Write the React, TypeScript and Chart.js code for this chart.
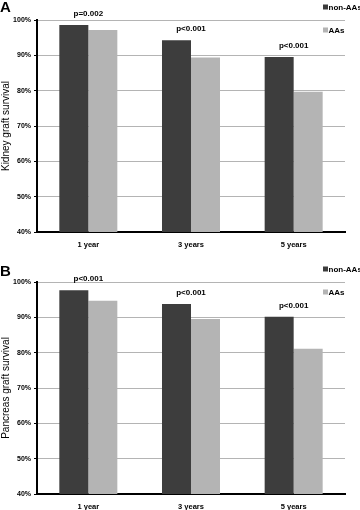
import React, { useEffect, useRef } from "react";
import { Chart, registerables } from "chart.js";

Chart.register(...registerables);

const categories = ["1 year", "3 years", "5 years"];
const seriesNames = ["non-AAs", "AAs"];
const seriesColors = ["#3d3d3d", "#b4b4b4"];

const kidneyNonAAs = [98.6, 94.3, 89.5];
const kidneyAAs = [97.2, 89.4, 79.7];
const kidneyP = ["p=0.002", "p<0.001", "p<0.001"];

const pancreasNonAAs = [97.7, 93.8, 90.2];
const pancreasAAs = [94.7, 89.5, 81.1];
const pancreasP = ["p<0.001", "p<0.001", "p<0.001"];

const yMin = 40;
const yMax = 100;
const yStep = 10;

const FONT = "'Liberation Sans', Arial, sans-serif";

function makeOverlayPlugin(letter: string, pLabels: string[]) {
  return {
    id: "overlay" + letter,
    afterDraw(chart: any) {
      const { ctx, chartArea, scales } = chart;
      const xs = scales.x;
      const ys = scales.y;
      ctx.save();
      // panel letter
      ctx.fillStyle = "#000";
      ctx.font = `bold 15px ${FONT}`;
      ctx.textAlign = "left";
      ctx.textBaseline = "top";
      ctx.fillText(letter, 0, letter === "A" ? 0 : 14);
      // p-value labels
      ctx.font = `bold 8px ${FONT}`;
      ctx.textAlign = "center";
      ctx.textBaseline = "middle";
      const ds = chart.data.datasets;
      pLabels.forEach((lab, i) => {
        const top = Math.max(...ds.map((d: any) => d.data[i]));
        const x = xs.getPixelForValue(i);
        const y = ys.getPixelForValue(top) - 11;
        ctx.fillText(lab, x, y);
      });
      // legend
      ctx.textAlign = "left";
      const lx = chartArea.right - 22;
      const offsets = [-13, 10];
      ds.forEach((d: any, k: number) => {
        const y = chartArea.top + offsets[k];
        ctx.fillStyle = d.backgroundColor;
        ctx.fillRect(lx, y - 2.5, 5, 5);
        ctx.fillStyle = "#000";
        ctx.fillText(d.label, lx + 5.5, y + 0.5);
      });
      ctx.restore();
    },
  };
}

function SurvivalChart(props: {
  letter: string;
  title: string;
  nonAAs: number[];
  aas: number[];
  pLabels: string[];
  height: number;
  padTop: number;
  xAxisHeight: number;
}) {
  const ref = useRef<HTMLCanvasElement | null>(null);
  useEffect(() => {
    if (!ref.current) return;
    const chart = new Chart(ref.current, {
      type: "bar",
      data: {
        labels: categories,
        datasets: [
          { label: seriesNames[0], data: props.nonAAs, backgroundColor: seriesColors[0] },
          { label: seriesNames[1], data: props.aas, backgroundColor: seriesColors[1] },
        ],
      },
      options: {
        responsive: false,
        animation: false,
        devicePixelRatio: 1,
        layout: { padding: { top: props.padTop, right: 15, left: 0, bottom: 0 } },
        datasets: { bar: { categoryPercentage: 0.565, barPercentage: 1 } },
        plugins: { legend: { display: false }, tooltip: { enabled: false } },
        scales: {
          x: {
            grid: { display: false, drawTicks: false },
            border: { display: true, color: "#000", width: 2 },
            ticks: { color: "#000", font: { family: FONT, size: 7.5, weight: "bold" }, padding: 8 },
            afterFit: (s: any) => {
              s.height = props.xAxisHeight;
            },
          },
          y: {
            min: yMin,
            max: yMax,
            ticks: {
              stepSize: yStep,
              color: "#000",
              padding: 3,
              font: { family: FONT, size: 7, weight: "bold" },
              callback: (v: any) => v + "%",
            },
            grid: { color: "#b4b4b4", lineWidth: 1, tickLength: 3, tickColor: "#000" },
            border: { display: true, color: "#000", width: 2 },
            title: {
              display: true,
              text: props.title,
              color: "#000",
              font: { family: FONT, size: 10 },
              padding: 0,
            },
            afterFit: (s: any) => {
              s.width = 37;
            },
          },
        },
      },
      plugins: [makeOverlayPlugin(props.letter, props.pLabels)],
    } as any);
    return () => chart.destroy();
  }, []);
  return (
    <canvas ref={ref} width={360} height={props.height} style={{ display: "block", width: 360, height: props.height }} />
  );
}

export default function App() {
  return (
    <div style={{ position: "fixed", left: 0, top: 0, width: 360, height: 510, background: "#fff" }}>
      <SurvivalChart
        letter="A"
        title="Kidney graft survival"
        nonAAs={kidneyNonAAs}
        aas={kidneyAAs}
        pLabels={kidneyP}
        height={250}
        padTop={20}
        xAxisHeight={18}
      />
      <SurvivalChart
        letter="B"
        title="Pancreas graft survival"
        nonAAs={pancreasNonAAs}
        aas={pancreasAAs}
        pLabels={pancreasP}
        height={260}
        padTop={32}
        xAxisHeight={16}
      />
    </div>
  );
}
